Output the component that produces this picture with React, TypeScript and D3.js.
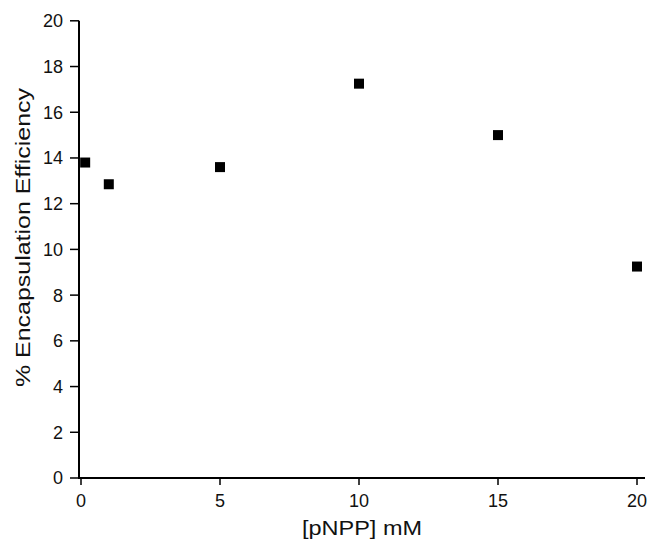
import React from "react";
import * as d3 from "d3";

const xValues = [0.15, 1, 5, 10, 15, 20];
const yValues = [13.8, 12.85, 13.6, 17.25, 15.0, 9.25];
const xTicks = [0, 5, 10, 15, 20];
const yTicks = [0, 2, 4, 6, 8, 10, 12, 14, 16, 18, 20];
const xLabel = "[pNPP] mM";
const yLabel = "% Encapsulation Efficiency";

export default function App() {
  const W = 649, H = 551;
  const x = d3.scaleLinear().domain([0, 20]).range([81, 637]);
  const y = d3.scaleLinear().domain([0, 20]).range([478, 20.8]);
  const axisX0 = 79;
  const font = "Liberation Sans, Arial, sans-serif";
  return (
    <svg width={W} height={H} style={{ position: "absolute", left: 0, top: 0, background: "#fff" }}>
      {/* y axis */}
      <line x1={axisX0} x2={axisX0} y1={y(20)} y2={y(0) + 1} stroke="#000" strokeWidth={2} />
      {yTicks.map((t) => (
        <g key={"y" + t}>
          <line x1={axisX0 - 9} x2={axisX0} y1={y(t)} y2={y(t)} stroke="#000" strokeWidth={1.5} />
          <text x={axisX0 - 16} y={y(t)} dy="0.36em" textAnchor="end" fontFamily={font} fontSize={18} fill="#111">
            {t}
          </text>
        </g>
      ))}
      {/* x axis */}
      <line x1={axisX0 - 1} x2={645} y1={y(0)} y2={y(0)} stroke="#000" strokeWidth={2} />
      {xTicks.map((t) => (
        <g key={"x" + t}>
          <line x1={x(t)} x2={x(t)} y1={y(0)} y2={y(0) + 7} stroke="#000" strokeWidth={1.5} />
          <text x={x(t)} y={507} textAnchor="middle" fontFamily={font} fontSize={18} fill="#111">
            {t}
          </text>
        </g>
      ))}
      <text
        x={362}
        y={535}
        textAnchor="middle"
        fontFamily={font}
        fontSize={21}
        textLength={120}
        lengthAdjust="spacingAndGlyphs"
        fill="#111"
      >
        {xLabel}
      </text>
      <text
        transform={`translate(30, 237.5) rotate(-90)`}
        textAnchor="middle"
        fontFamily={font}
        fontSize={20}
        textLength={299}
        lengthAdjust="spacingAndGlyphs"
        fill="#111"
      >
        {yLabel}
      </text>
      {xValues.map((v, i) => (
        <rect
          key={"p" + i}
          x={x(v) - 5}
          y={y(yValues[i]) - 5}
          width={10}
          height={10}
          fill="#000"
        />
      ))}
    </svg>
  );
}
